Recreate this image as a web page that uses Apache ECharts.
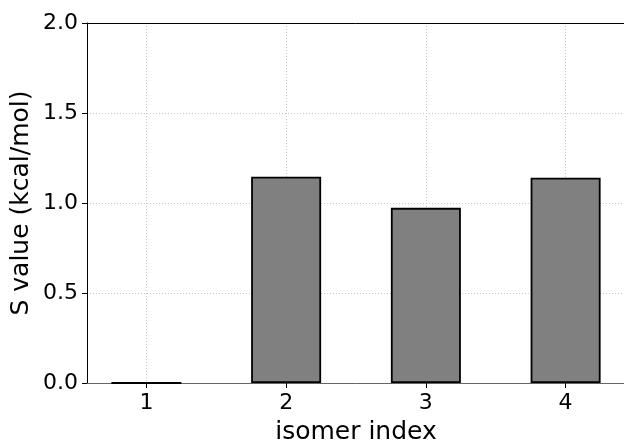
<!DOCTYPE html>
<html>
<head>
<meta charset="utf-8">
<script src="https://cdn.jsdelivr.net/npm/echarts@6/dist/echarts.min.js"></script>
<style>html,body{margin:0;padding:0;background:#fff;}#c{width:624px;height:442px;}</style>
</head>
<body>
<div id="c"></div>
<script>
const categories = [1, 2, 3, 4];
const sValues = [0.0, 1.146, 0.973, 1.140];
const yTicks = [0, 0.5, 1.0, 1.5, 2.0];

const chart = echarts.init(document.getElementById('c'), null, {renderer: 'canvas'});
const FONT = 'DejaVu Sans';
const gridLine = {show: true, lineStyle: {color: '#c8c8c8', width: 1, type: [1, 2]}};
const option = {
  animation: false,
  grid: {left: 87, top: 23, width: 538, height: 360, containLabel: false, outerBoundsMode: 'none'},
  xAxis: [{
    type: 'value', min: 0.575, max: 4.425, position: 'bottom',
    name: 'isomer index', nameLocation: 'middle', nameGap: 37, nameMoveOverlap: false,
    nameTextStyle: {fontFamily: FONT, fontSize: 25, color: '#000'},
    axisLine: {show: true, onZero: false, lineStyle: {color: '#666', width: 1}},
    axisTick: {show: true, length: 5, inside: false, customValues: categories, lineStyle: {color: '#000'}},
    axisLabel: {show: true, customValues: categories, margin: 9, fontFamily: FONT, fontSize: 22, color: '#000', formatter: v => String(v)},
    splitLine: gridLine
  }, {
    type: 'value', min: 0.575, max: 4.425, position: 'top',
    axisLine: {show: true, onZero: false, lineStyle: {color: '#000', width: 1}},
    axisTick: {show: false}, axisLabel: {show: false}, splitLine: {show: false}
  }],
  yAxis: {
    type: 'value', min: yTicks[0], max: yTicks[yTicks.length - 1], interval: 0.5,
    name: 'S value (kcal/mol)', nameLocation: 'middle', nameGap: 53, nameRotate: 90, nameMoveOverlap: false,
    nameTextStyle: {fontFamily: FONT, fontSize: 25, color: '#000'},
    axisLine: {show: true, lineStyle: {color: '#000', width: 1}},
    axisTick: {show: true, length: 5, inside: false, lineStyle: {color: '#000'}},
    axisLabel: {margin: 9, fontFamily: FONT, fontSize: 22, color: '#000', formatter: v => v.toFixed(1)},
    splitLine: gridLine
  },
  series: [{
    type: 'bar', xAxisIndex: 0,
    barWidth: 70,
    data: categories.map((c, i) => [c, sValues[i]]),
    itemStyle: {color: '#808080', borderColor: '#000', borderWidth: 1.8},
    z: 3
  }]
};
chart.setOption(option);
</script>
</body>
</html>
